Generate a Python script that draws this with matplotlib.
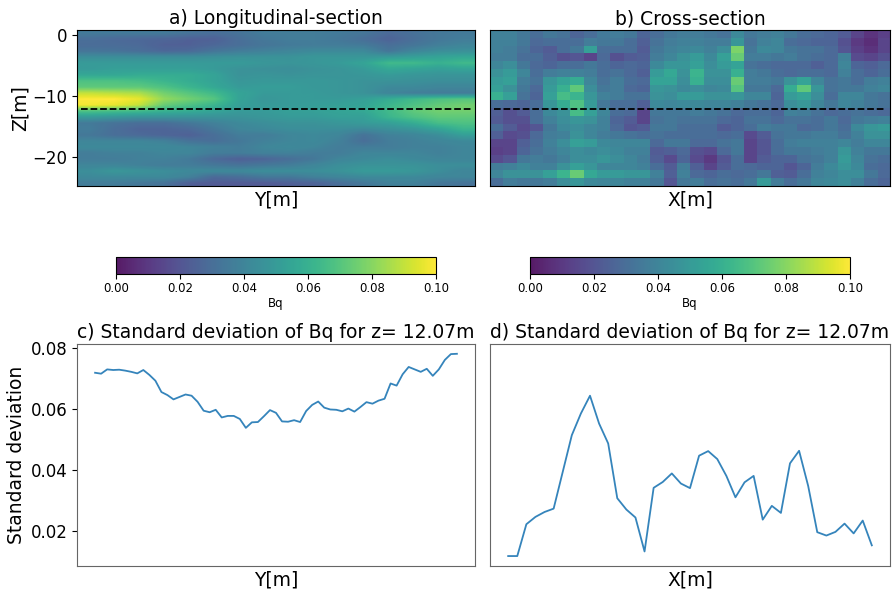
import numpy as np
import matplotlib
matplotlib.use("Agg")
import matplotlib.pyplot as plt

# Bq, longitudinal section (rows top to bottom, thousandths)
bq_long = np.array([
    [35, 35, 35, 35, 32, 30, 32, 36, 36, 36, 35, 33, 28, 31, 34, 35],
    [30, 28, 27, 26, 24, 24, 30, 34, 36, 36, 34, 30, 25, 30, 34, 36],
    [29, 29, 28, 24, 24, 27, 30, 33, 35, 36, 36, 35, 30, 33, 37, 40],
    [33, 32, 30, 27, 28, 33, 36, 38, 40, 42, 42, 42, 33, 40, 44, 45],
    [44, 44, 44, 44, 44, 45, 46, 46, 46, 48, 48, 48, 50, 52, 54, 56],
    [50, 50, 50, 50, 50, 50, 50, 48, 47, 48, 50, 54, 64, 64, 60, 64],
    [50, 52, 52, 52, 52, 50, 46, 45, 44, 46, 47, 50, 56, 54, 52, 54],
    [56, 56, 58, 58, 58, 54, 46, 47, 46, 47, 47, 48, 50, 48, 47, 47],
    [68, 68, 66, 62, 58, 54, 48, 49, 49, 49, 48, 46, 46, 45, 44, 44],
    [72, 72, 72, 68, 62, 56, 50, 51, 51, 49, 48, 46, 42, 42, 40, 40],
    [90, 88, 86, 76, 70, 64, 54, 50, 50, 50, 48, 46, 40, 37, 36, 36],
    [100, 100, 96, 82, 76, 70, 54, 48, 50, 50, 50, 52, 58, 64, 68, 70],
    [98, 96, 90, 74, 68, 62, 52, 50, 50, 51, 52, 54, 62, 68, 73, 76],
    [68, 66, 64, 60, 58, 54, 50, 50, 52, 52, 54, 56, 64, 72, 76, 76],
    [50, 48, 46, 46, 46, 46, 46, 48, 50, 50, 52, 52, 62, 68, 72, 72],
    [35, 32, 30, 30, 34, 38, 42, 44, 46, 46, 48, 50, 52, 58, 66, 68],
    [36, 30, 26, 26, 28, 34, 40, 42, 44, 44, 44, 42, 45, 48, 54, 62],
    [34, 30, 28, 26, 24, 30, 36, 36, 40, 42, 40, 32, 38, 40, 44, 52],
    [40, 40, 40, 38, 32, 30, 34, 38, 40, 42, 38, 30, 36, 38, 40, 42],
    [42, 42, 42, 42, 40, 38, 36, 40, 42, 40, 36, 36, 36, 38, 38, 40],
    [36, 38, 38, 40, 40, 36, 36, 38, 38, 36, 36, 40, 40, 40, 38, 40],
    [36, 36, 38, 38, 35, 28, 24, 26, 30, 34, 40, 42, 44, 42, 40, 40],
    [40, 40, 38, 36, 36, 34, 32, 34, 36, 40, 44, 46, 46, 46, 44, 44],
    [44, 48, 46, 44, 42, 42, 42, 44, 44, 44, 46, 50, 50, 48, 44, 40],
    [42, 42, 42, 42, 38, 28, 30, 34, 34, 38, 40, 42, 42, 42, 40, 40],
    [36, 36, 34, 32, 24, 22, 22, 22, 24, 25, 30, 34, 38, 38, 34, 32],
]) / 1000.0

# Bq, cross section
bq_cross = np.array([
    [38, 38, 34, 30, 34, 32, 26, 30, 35, 36, 34, 26, 30, 34, 36, 36, 34, 32, 42, 34, 36, 38, 34, 30, 28, 26, 22, 14, 8, 12],
    [38, 38, 34, 28, 30, 30, 30, 36, 34, 34, 30, 24, 32, 36, 38, 38, 36, 36, 48, 32, 38, 40, 30, 28, 26, 26, 18, 10, 6, 14],
    [38, 36, 32, 26, 22, 30, 34, 52, 30, 30, 30, 22, 34, 38, 40, 42, 38, 44, 78, 34, 42, 40, 34, 32, 32, 28, 20, 12, 8, 14],
    [36, 36, 30, 30, 24, 18, 20, 14, 28, 18, 22, 24, 36, 40, 46, 50, 42, 52, 74, 36, 36, 34, 36, 32, 30, 28, 38, 16, 14, 18],
    [40, 44, 34, 28, 26, 30, 30, 34, 30, 26, 28, 26, 42, 48, 48, 52, 44, 50, 54, 32, 30, 28, 28, 28, 24, 28, 40, 26, 24, 28],
    [46, 50, 40, 30, 36, 38, 38, 36, 30, 32, 28, 24, 50, 56, 46, 62, 46, 46, 60, 36, 34, 30, 28, 30, 30, 28, 38, 30, 26, 30],
    [50, 52, 36, 32, 48, 54, 58, 40, 32, 36, 30, 28, 54, 54, 44, 60, 44, 44, 74, 36, 36, 34, 46, 54, 40, 32, 34, 30, 36, 38],
    [52, 46, 34, 28, 50, 60, 72, 44, 34, 36, 28, 26, 48, 46, 42, 44, 40, 42, 70, 34, 34, 28, 58, 72, 48, 32, 34, 34, 38, 40],
    [60, 52, 32, 26, 52, 66, 62, 48, 38, 36, 32, 32, 46, 44, 50, 50, 46, 46, 48, 40, 40, 26, 50, 54, 44, 30, 40, 40, 34, 32],
    [30, 28, 26, 30, 48, 58, 68, 50, 34, 30, 30, 24, 42, 40, 42, 42, 40, 40, 38, 34, 32, 28, 44, 48, 40, 34, 40, 38, 34, 32],
    [24, 18, 22, 30, 42, 46, 66, 52, 40, 30, 28, 14, 34, 34, 34, 36, 34, 32, 28, 30, 30, 26, 38, 36, 32, 28, 30, 32, 30, 28],
    [22, 18, 18, 30, 38, 44, 48, 46, 38, 26, 22, 14, 32, 34, 32, 32, 32, 28, 26, 32, 32, 28, 32, 32, 30, 34, 28, 34, 36, 38],
    [30, 22, 16, 20, 34, 42, 44, 40, 38, 28, 20, 22, 34, 34, 30, 30, 30, 22, 26, 30, 36, 34, 34, 28, 30, 34, 30, 42, 48, 50],
    [24, 16, 18, 28, 36, 38, 46, 40, 36, 34, 32, 30, 32, 30, 30, 30, 30, 28, 30, 16, 22, 32, 34, 34, 36, 36, 32, 38, 46, 46],
    [14, 14, 24, 30, 38, 44, 52, 50, 42, 40, 40, 40, 28, 34, 34, 28, 28, 32, 34, 14, 20, 30, 36, 38, 38, 38, 40, 36, 40, 40],
    [12, 14, 26, 32, 36, 40, 44, 42, 44, 42, 38, 38, 22, 24, 28, 18, 16, 28, 34, 14, 20, 30, 34, 34, 36, 38, 48, 38, 34, 34],
    [16, 20, 34, 36, 34, 38, 44, 44, 48, 44, 40, 36, 24, 16, 26, 16, 10, 20, 30, 14, 22, 26, 26, 32, 34, 38, 50, 40, 32, 30],
    [36, 38, 42, 38, 38, 46, 52, 48, 40, 40, 40, 38, 30, 22, 36, 24, 14, 22, 30, 28, 26, 26, 20, 26, 36, 42, 48, 42, 30, 28],
    [40, 46, 46, 46, 52, 62, 74, 56, 50, 50, 48, 48, 38, 24, 38, 28, 26, 30, 28, 30, 34, 24, 22, 30, 38, 40, 44, 44, 34, 28],
    [30, 36, 34, 34, 36, 44, 48, 42, 40, 40, 38, 38, 34, 20, 34, 36, 30, 32, 30, 34, 50, 36, 30, 34, 40, 42, 44, 38, 30, 26],
]) / 1000.0

# standard deviation at z = 12.07 m
std_long = [.0718, .0715, .0729, .0727, .0728, .0725, .0721, .0716, .0727, .0711, .0692,
            .0655, .0645, .0631, .0639, .0647, .0643, .0623, .0594, .0589, .0597, .0572,
            .0577, .0577, .0567, .0538, .0556, .0557, .0576, .0596, .0587, .0559, .0558,
            .0563, .0557, .0593, .0613, .0624, .0604, .0598, .0597, .0592, .0601, .0591,
            .0606, .0622, .0617, .0627, .0633, .0683, .0676, .0713, .0737, .0729, .0721,
            .0731, .0708, .0729, .0760, .0779, .0780]
std_cross = [.0119, .0119, .0223, .0247, .0263, .0274, .0394, .0514, .0585, .0643, .0552,
             .0487, .0308, .0271, .0245, .0134, .0342, .0361, .0389, .0356, .0341, .0447,
             .0462, .0436, .0381, .0311, .0360, .0381, .0238, .0283, .0260, .0422, .0463,
             .0348, .0197, .0186, .0198, .0225, .0193, .0235, .0154]

z_section = -12.07
z_top, z_bottom = 0.8, -24.75
z_ticks = [0, -10, -20]
cb_ticks = [0.0, 0.02, 0.04, 0.06, 0.08, 0.1]
std_ticks = [0.02, 0.04, 0.06, 0.08]


def px_axes(fig, x0, y0, x1, y1):
    # rectangle given in pixels of the reference, y measured from the top
    W, H = 892.0, 591.0
    return fig.add_axes([x0 / W, 1 - y1 / H, (x1 - x0) / W, (y1 - y0) / H])


fig = plt.figure(figsize=(8.92, 5.91), dpi=100)

ax_a = px_axes(fig, 77, 30, 475, 186)
ax_b = px_axes(fig, 490, 30, 890, 186)
ax_c = px_axes(fig, 77, 344, 475, 566)
ax_d = px_axes(fig, 490, 344, 890, 566)
cax_a = px_axes(fig, 116, 257, 436, 274)
cax_b = px_axes(fig, 530, 257, 850, 274)

im_a = ax_a.imshow(bq_long, cmap='viridis', vmin=0, vmax=0.1, alpha=0.9, aspect='auto',
                   interpolation='bilinear', extent=(0, 1, z_bottom, z_top))
im_b = ax_b.imshow(bq_cross, cmap='viridis', vmin=0, vmax=0.1, alpha=0.9, aspect='auto',
                   interpolation='nearest', extent=(0, 1, z_bottom, z_top))

for ax in (ax_a, ax_b):
    ax.plot([0.01, 0.99], [z_section, z_section], 'k--', lw=1.3)
    ax.set_xlim(0, 1)
    ax.set_ylim(z_bottom, z_top)
    ax.set_xticks([])

ax_a.set_yticks(z_ticks)
ax_a.tick_params(axis='y', labelsize=12)
ax_a.set_ylabel('Z[m]', fontsize=13.5, labelpad=2)
ax_b.set_yticks([])
ax_a.set_title('a) Longitudinal-section', fontsize=13.5, pad=4)
ax_b.set_title('b) Cross-section', fontsize=13.5, pad=4)
ax_a.set_xlabel('Y[m]', fontsize=13.5, labelpad=3)
ax_b.set_xlabel('X[m]', fontsize=13.5, labelpad=3)

for im, cax in ((im_a, cax_a), (im_b, cax_b)):
    cb = fig.colorbar(im, cax=cax, orientation='horizontal')
    cb.set_ticks(cb_ticks)
    cb.ax.tick_params(labelsize=8.5, pad=2.5)
    cb.set_label('Bq', fontsize=8.5, labelpad=1)

ax_c.plot(std_long, color='tab:blue', lw=1.3, alpha=0.9)
ax_d.plot(std_cross, color='tab:blue', lw=1.3, alpha=0.9)
for ax in (ax_c, ax_d):
    ax.set_ylim(0.00865, 0.0812)
    ax.set_xticks([])
    for s in ax.spines.values():
        s.set_color('#666666')

ax_c.set_yticks(std_ticks)
ax_c.tick_params(axis='y', labelsize=12)
ax_c.set_ylabel('Standard deviation', fontsize=13.5, labelpad=3)
ax_d.set_yticks([])
ax_c.set_title('c) Standard deviation of Bq for z= 12.07m', fontsize=13.5, pad=4)
ax_d.set_title('d) Standard deviation of Bq for z= 12.07m', fontsize=13.5, pad=4)
ax_c.set_xlabel('Y[m]', fontsize=13.5, labelpad=3)
ax_d.set_xlabel('X[m]', fontsize=13.5, labelpad=3)

fig.savefig('out.png', dpi=100)
